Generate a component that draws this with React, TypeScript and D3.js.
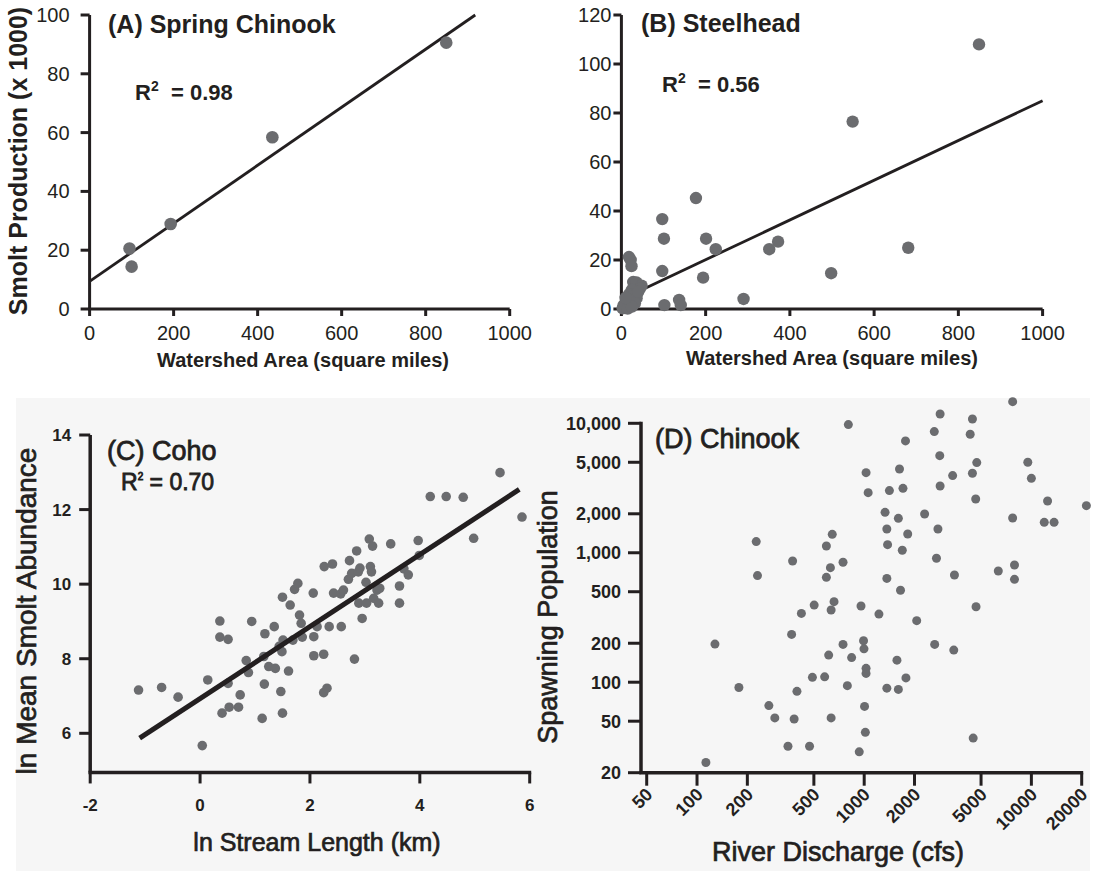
import React from "react";
import * as d3 from "d3";

// ---------- DATA ----------
// (A) Spring Chinook: watershed area (sq mi) vs smolt production (x1000)
const aArea = [95, 100, 193, 435, 849];
const aSmolt = [20.6, 14.4, 28.9, 58.4, 90.6];
const aFitX = [0, 918];
const aFitY = [9.4, 100];
const aXTicks = [0, 200, 400, 600, 800, 1000];
const aYTicks = [0, 20, 40, 60, 80, 100];

// (B) Steelhead
const bArea = [849, 549, 681, 498, 372, 351, 290, 177, 201, 224, 194, 97, 101, 97, 102, 137, 141,
  18, 22, 24, 28, 36, 48, 44, 25, 18, 30, 36, 20, 12, 32, 5, 3, 15, 25, 10, 40];
const bSmolt = [108, 76.5, 25, 14.6, 27.5, 24.4, 4.1, 45.3, 28.7, 24.4, 12.8, 36.7, 28.7, 15.5, 1.6, 3.7, 1.6,
  21.2, 20, 17.5, 11, 10.8, 9.5, 8.4, 7.8, 6, 5.5, 4.4, 3.7, 2.3, 2.3, 1.5, 0.3, 0.2, 1, 4.5, 7];
const bFitX = [0, 1000];
const bFitY = [3.9, 85];
const bXTicks = [0, 200, 400, 600, 800, 1000];
const bYTicks = [0, 20, 40, 60, 80, 100, 120];

// (C) Coho: ln stream length vs ln mean smolt abundance
const cLen = [-1.12, -0.70, -0.40, 0.04, 0.14, 0.36, 0.36, 0.51, 0.51, 0.40, 0.53, 0.70, 0.73, 0.84, 0.88, 0.94,
  1.13, 1.17, 1.18, 1.16, 1.25, 1.35, 1.37, 1.47, 1.50, 1.49, 1.51, 1.44, 1.50, 1.61, 1.64, 1.69, 1.72, 1.78,
  1.81, 1.84, 1.86, 2.06, 2.07, 2.07, 2.13, 2.25, 2.26, 2.25, 2.31, 2.35, 2.41, 2.43, 2.56, 2.57, 2.61, 2.72,
  2.70, 2.76, 2.81, 2.85, 2.88, 2.91, 2.89, 2.95, 3.02, 3.03, 3.08, 3.10, 3.12, 3.14, 3.16, 3.22, 3.25, 3.27,
  3.47, 3.63, 3.63, 3.71, 3.79, 3.97, 3.99, 4.19, 4.48, 4.79, 4.98, 5.46, 5.86];
const cAbund = [7.16, 7.23, 6.97, 5.67, 7.43, 9.01, 8.58, 8.52, 7.34, 6.54, 6.70, 6.70, 7.03, 7.95, 7.63, 9.00,
  6.40, 7.32, 8.67, 8.06, 7.79, 8.86, 7.74, 7.12, 6.54, 8.19, 8.50, 8.33, 9.65, 7.67, 9.44, 8.50, 9.86, 10.02,
  9.17, 8.95, 8.58, 9.76, 8.59, 8.08, 8.86, 8.12, 10.47, 7.09, 7.21, 8.86, 10.54, 9.76, 9.74, 8.86, 9.84, 10.63,
  10.13, 10.29, 7.99, 10.89, 10.33, 10.43, 9.49, 9.08, 10.05, 9.49, 11.21, 10.47, 10.33, 11.02, 9.62, 9.84, 9.49, 9.89,
  11.08, 9.49, 9.95, 10.41, 10.25, 11.17, 10.77, 12.35, 12.35, 12.33, 11.23, 12.99, 11.80];
const cFitX = [-1.1, 5.81];
const cFitY = [5.87, 12.54];
const cXTicks = [-2, 0, 2, 4, 6];
const cYTicks = [6, 8, 10, 12, 14];

// (D) Chinook: river discharge (cfs) vs spawning population
const dFlow = [113, 128, 178, 226, 230, 269, 292, 350, 368, 373, 381, 396, 421, 471, 490, 502, 580, 594, 594, 613,
  628, 634, 634, 644, 660, 747, 747, 793, 804, 841, 934, 957, 991, 997, 1005, 1016, 1026, 1026, 1026, 1056,
  1225, 1333, 1366, 1380, 1366, 1366, 1415, 1601, 1570, 1601, 1626, 1649, 1690, 1706, 1766, 1777, 1821, 2061,
  2298, 2626, 2640, 2706, 2761, 2831, 2845, 2845, 3381, 3466, 3434, 4306, 4440, 4440, 4487, 4645, 4713, 4667,
  6340, 7727, 7727, 7925, 7925, 9520, 10000, 12500, 11940, 13670, 21330];
const dSpawn = [24, 197, 91, 1219, 666, 66, 53, 32, 234, 864, 52, 85, 340, 32, 109, 394, 110, 1128, 646, 162,
  767, 361, 53, 1388, 419, 844, 196, 94, 9770, 155, 29, 388, 209, 181, 65, 41, 4157, 128, 117, 2914,
  336, 2053, 1526, 1155, 634, 90, 3020, 1845, 148, 88, 4437, 513, 1045, 3146, 7307, 108, 1397, 299,
  1993, 8626, 196, 906, 1526, 5627, 11800, 3280, 3943, 673, 177, 8222, 10800, 4109, 37, 2603, 4970, 383,
  723, 14700, 1857, 804, 623, 5000, 3758, 2512, 1718, 1718, 2310];
const dXTicks = [50, 100, 200, 500, 1000, 2000, 5000, 10000, 20000];
const dXLabels = ["50", "100", "200", "500", "1000", "2000", "5000", "10000", "20000"];
const dYTicks = [20, 50, 100, 200, 500, 1000, 2000, 5000, 10000];
const dYLabels = ["20", "50", "100", "200", "500", "1,000", "2,000", "5,000", "10,000"];

// ---------- STYLE ----------
const FONT = "'Liberation Sans', Arial, Helvetica, sans-serif";
const INK = "#231f20";
const DOT = "#6b6c6f";

export default function App() {
  const ax = d3.scaleLinear().domain([0, 1000]).range([89.6, 509.7]);
  const ay = d3.scaleLinear().domain([0, 100]).range([309, 15]);
  const bx = d3.scaleLinear().domain([0, 1000]).range([621.4, 1042.6]);
  const by = d3.scaleLinear().domain([0, 120]).range([309, 15]);
  const cx = d3.scaleLinear().domain([-2, 6]).range([90.2, 529.7]);
  const cy = d3.scaleLinear().domain([6, 14]).range([733.3, 435]);
  const dx = d3.scaleLog().domain([50, 20000]).range([646.7, 1081.7]);
  const dy = d3.scaleLog().domain([20, 10000]).range([772.7, 423.3]);

  const line = d3.line<[number, number]>();

  const panelA = (
    <g>
      <line x1={ax(0)} x2={ax(0)} y1={ay(0)} y2={ay(100)} stroke={INK} strokeWidth={3} />
      <line x1={ax(0) - 1.5} x2={ax(1000)} y1={ay(0)} y2={ay(0)} stroke={INK} strokeWidth={3} />
      {aYTicks.map((t) => (
        <g key={"ay" + t}>
          <line x1={ax(0) - 9} x2={ax(0)} y1={ay(t)} y2={ay(t)} stroke={INK} strokeWidth={3} />
          <text x={ax(0) - 20} y={ay(t) + 7} textAnchor="end" fontSize={20} fill={INK}>{t}</text>
        </g>
      ))}
      {aXTicks.map((t) => (
        <g key={"ax" + t}>
          <line x1={ax(t)} x2={ax(t)} y1={ay(0)} y2={ay(0) + 7} stroke={INK} strokeWidth={3} />
          <text x={ax(t)} y={340} textAnchor="middle" fontSize={20} fill={INK}>{t}</text>
        </g>
      ))}
      <path d={line(aFitX.map((x, i) => [ax(x), ay(aFitY[i])]) as any) || ""} stroke={INK} strokeWidth={2.8} fill="none" />
      {aArea.map((x, i) => (
        <circle key={"ap" + i} cx={ax(x)} cy={ay(aSmolt[i])} r={6.3} fill={DOT} />
      ))}
      <text x={108} y={33} fontSize={25} fontWeight="bold" fill={INK}>(A) Spring Chinook</text>
      <text x={135} y={100} fontSize={22} fontWeight="bold" fill={INK}>
        R<tspan fontSize={14} dy={-9}>2</tspan>
      </text>
      <text x={171} y={100} fontSize={22} fontWeight="bold" fill={INK}>= 0.98</text>
      <text x={303} y={367} textAnchor="middle" fontSize={20} fontWeight="bold" fill={INK}>Watershed Area (square miles)</text>
      <text transform={`translate(27,161) rotate(-90)`} textAnchor="middle" fontSize={25} fontWeight="bold" fill={INK}>Smolt Production (x 1000)</text>
    </g>
  );

  const panelB = (
    <g>
      <line x1={bx(0)} x2={bx(0)} y1={by(0)} y2={by(120)} stroke={INK} strokeWidth={3} />
      <line x1={bx(0) - 1.5} x2={bx(1000)} y1={by(0)} y2={by(0)} stroke={INK} strokeWidth={3} />
      {bYTicks.map((t) => (
        <g key={"by" + t}>
          <line x1={bx(0) - 8} x2={bx(0)} y1={by(t)} y2={by(t)} stroke={INK} strokeWidth={3} />
          <text x={bx(0) - 10} y={by(t) + 7} textAnchor="end" fontSize={20} fill={INK}>{t}</text>
        </g>
      ))}
      {bXTicks.map((t) => (
        <g key={"bx" + t}>
          <line x1={bx(t)} x2={bx(t)} y1={by(0)} y2={by(0) + 7} stroke={INK} strokeWidth={3} />
          <text x={bx(t)} y={340} textAnchor="middle" fontSize={20} fill={INK}>{t}</text>
        </g>
      ))}
      <path d={line(bFitX.map((x, i) => [bx(x), by(bFitY[i])]) as any) || ""} stroke={INK} strokeWidth={2.8} fill="none" />
      {bArea.map((x, i) => (
        <circle key={"bp" + i} cx={bx(x)} cy={by(bSmolt[i])} r={6.2} fill={DOT} />
      ))}
      <text x={641} y={32} fontSize={25} fontWeight="bold" fill={INK}>(B) Steelhead</text>
      <text x={662} y={92} fontSize={22} fontWeight="bold" fill={INK}>
        R<tspan fontSize={14} dy={-9}>2</tspan>
      </text>
      <text x={698} y={92} fontSize={22} fontWeight="bold" fill={INK}>= 0.56</text>
      <text x={832} y={365} textAnchor="middle" fontSize={20} fontWeight="bold" fill={INK}>Watershed Area (square miles)</text>
    </g>
  );

  const cBase = cy(4.95);
  const panelC = (
    <g>
      <line x1={cx(-2)} x2={cx(-2)} y1={cBase} y2={cy(14)} stroke={INK} strokeWidth={3.5} />
      <line x1={cx(-2) - 1.75} x2={cx(6) + 1.5} y1={cBase} y2={cBase} stroke={INK} strokeWidth={3.5} />
      {cYTicks.map((t) => (
        <g key={"cy" + t}>
          <line x1={cx(-2) - 11} x2={cx(-2)} y1={cy(t)} y2={cy(t)} stroke={INK} strokeWidth={3} />
          <text x={cx(-2) - 19} y={cy(t) + 6} textAnchor="end" fontSize={17} fontWeight="bold" fill={INK}>{t}</text>
        </g>
      ))}
      {cXTicks.map((t) => (
        <g key={"cx" + t}>
          <line x1={cx(t)} x2={cx(t)} y1={cBase} y2={cBase + 11} stroke={INK} strokeWidth={3} />
          <text x={cx(t)} y={811} textAnchor="middle" fontSize={17} fontWeight="bold" fill={INK}>{t}</text>
        </g>
      ))}
      {cLen.map((x, i) => (
        <circle key={"cp" + i} cx={cx(x)} cy={cy(cAbund[i])} r={4.8} fill={DOT} />
      ))}
      <path d={line(cFitX.map((x, i) => [cx(x), cy(cFitY[i])]) as any) || ""} stroke={INK} strokeWidth={5} fill="none" />
      <text x={107} y={460} fontSize={27} fill={INK} stroke={INK} strokeWidth={0.8}>(C) Coho</text>
      <text x={121} y={490} fontSize={23} fill={INK} stroke={INK} strokeWidth={0.8}>
        R<tspan fontSize={10} dy={-10}>2</tspan><tspan dy={10}>{" = 0.70"}</tspan>
      </text>
      <text x={317} y={851} textAnchor="middle" fontSize={25} fill={INK} stroke={INK} strokeWidth={0.7}>ln Stream Length (km)</text>
      <text transform={`translate(36,611) rotate(-90)`} textAnchor="middle" fontSize={28} fill={INK} stroke={INK} strokeWidth={0.7}>ln Mean Smolt Abundance</text>
    </g>
  );

  const dAxisX = 641;
  const dBase = dy(20);
  const panelD = (
    <g>
      <line x1={dAxisX} x2={dAxisX} y1={dBase} y2={dy(10000) - 1.5} stroke={INK} strokeWidth={3.5} />
      <line x1={dAxisX - 1.75} x2={dx(20000) + 1.5} y1={dBase} y2={dBase} stroke={INK} strokeWidth={3.5} />
      {dYTicks.map((t, i) => (
        <g key={"dy" + t}>
          <line x1={dAxisX - 13} x2={dAxisX} y1={dy(t)} y2={dy(t)} stroke={INK} strokeWidth={3} />
          <text x={dAxisX - 20} y={dy(t) + 6.5} textAnchor="end" fontSize={18} fontWeight="bold" fill={INK}>{dYLabels[i]}</text>
        </g>
      ))}
      {dXTicks.map((t, i) => (
        <g key={"dx" + t}>
          <line x1={dx(t)} x2={dx(t)} y1={dBase} y2={dBase + 13} stroke={INK} strokeWidth={3} />
          <text transform={`translate(${dx(t) + 7},${dBase + 23}) rotate(-45)`} textAnchor="end" fontSize={18} fontWeight="bold" fill={INK}>{dXLabels[i]}</text>
        </g>
      ))}
      {dFlow.map((x, i) => (
        <circle key={"dp" + i} cx={dx(x)} cy={dy(dSpawn[i])} r={4.5} fill={DOT} />
      ))}
      <text x={655} y={448} fontSize={27} fill={INK} stroke={INK} strokeWidth={0.8}>(D) Chinook</text>
      <text x={838} y={861} textAnchor="middle" fontSize={27} fill={INK} stroke={INK} strokeWidth={0.7}>River Discharge (cfs)</text>
      <text transform={`translate(557,617) rotate(-90)`} textAnchor="middle" fontSize={27} fill={INK} stroke={INK} strokeWidth={0.7}>Spawning Population</text>
    </g>
  );

  return (
    <svg
      width={1095}
      height={871}
      viewBox="0 0 1095 871"
      style={{ position: "absolute", left: 0, top: 0, background: "#ffffff" }}
      fontFamily={FONT}
    >
      <rect x={0} y={0} width={1095} height={871} fill="#ffffff" />
      <rect x={16} y={398} width={1074} height={473} fill="#f6f6f6" />
      {panelA}
      {panelB}
      {panelC}
      {panelD}
    </svg>
  );
}
